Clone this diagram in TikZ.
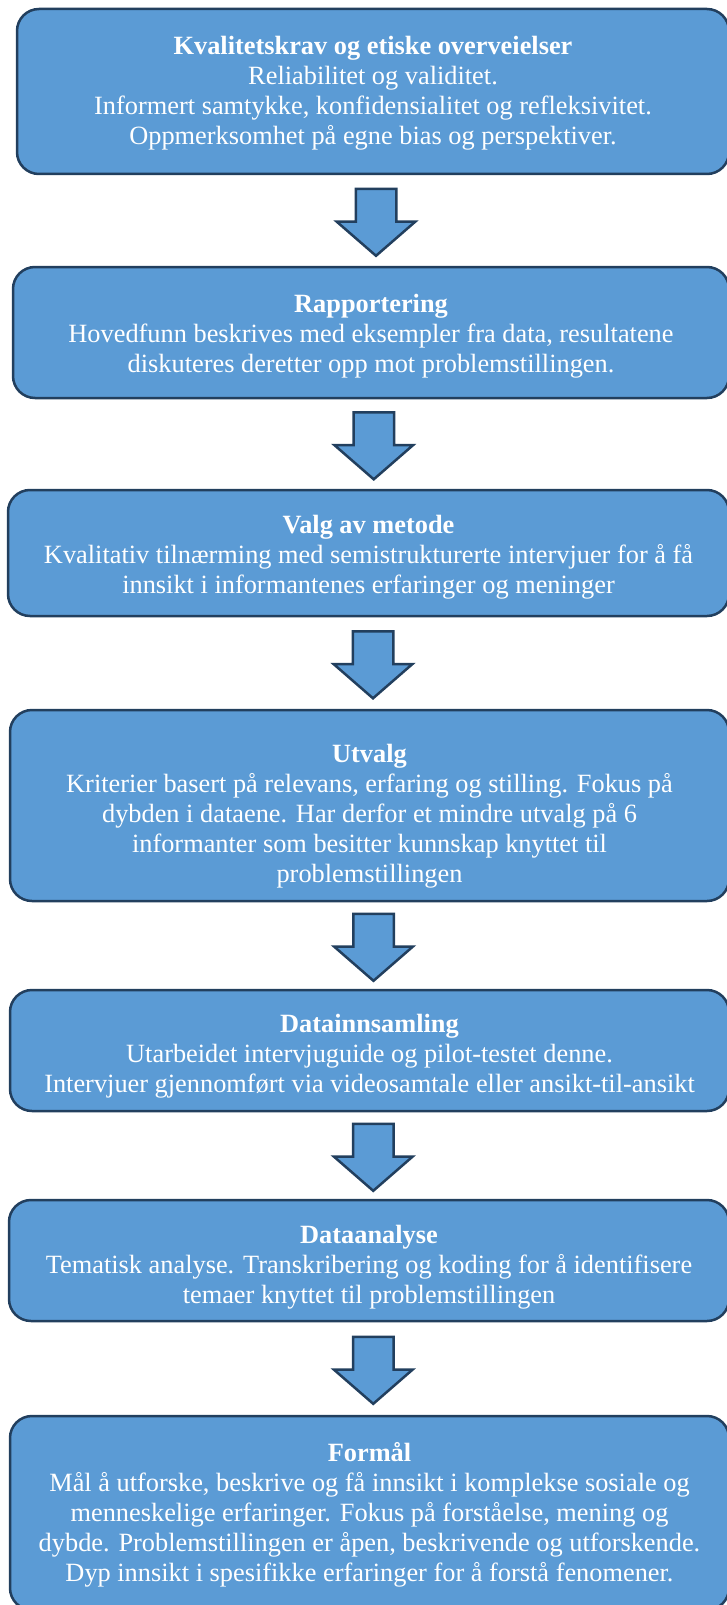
\documentclass[tikz,border=0pt]{standalone}
\usepackage{fontspec}
\setmainfont{Liberation Serif}
\usepackage{tikz}
\usetikzlibrary{shapes,shapes.arrows,calc,positioning}
\definecolor{boxblue}{HTML}{5B9BD5}
\definecolor{boxedge}{HTML}{223F5E}
\tikzset{
    x=1pt,y=-1pt,
    stage/.style ={rectangle, rounded corners=22pt, draw=boxedge, line width=2.5pt, fill=boxblue,
        inner sep=0pt, minimum height=#1},
    stagetext/.style ={text=white, align=center, inner sep=0pt,
        font=\fontsize{26.35}{30}\selectfont},
    downarrow/.style = {single arrow, draw=boxedge, line width=2.5pt, fill=boxblue,
        shape border rotate=270, inner sep=0pt, minimum height=67pt, minimum width=77pt,
        single arrow head extend=19pt, single arrow tip angle=98, xshift=4pt, yshift=7pt}
}
\begin{document}
\begin{tikzpicture}
        \useasboundingbox (0,0) rectangle (727,1605);
        \node[stage=165pt, minimum width=712pt] (krav) at (373,91.5) {};
        \node[stagetext] (kravtext) at ($(krav.center)+(0,2)$)
            {\textbf{Kvalitetskrav og etiske overveielser}\\
             Reliabilitet og validitet.\\
             Informert samtykke, konfidensialitet og refleksivitet.\\
             Oppmerksomhet på egne bias og perspektiver.};
        \node[stage=131pt, minimum width=716pt] (rapport) at (371,332.5) {};
        \node[stagetext] (rapporttext) at ($(rapport.center)+(0,4)$)
            {\textbf{Rapportering}\\
             Hovedfunn beskrives med eksempler fra data, resultatene\\
             diskuteres deretter opp mot problemstillingen.};
        \node[stage=126pt, minimum width=721pt] (metode) at (368.5,553) {};
        \node[stagetext] (metodetext) at ($(metode.center)+(0,4)$)
            {\textbf{Valg av metode}\\
             Kvalitativ tilnærming med semistrukturerte intervjuer for å få\\
             innsikt i informantenes erfaringer og meninger};
        \node[stage=191pt, minimum width=719pt] (utvalg) at (369.5,805.5) {};
        \node[stagetext] (utvalgtext) at ($(utvalg.center)+(0,11)$)
            {\textbf{Utvalg}\\
             Kriterier basert på relevans, erfaring og stilling. Fokus på\\
             dybden i dataene. Har derfor et mindre utvalg på 6\\
             informanter som besitter kunnskap knyttet til\\
             problemstillingen};
        \node[stage=121pt, minimum width=719pt] (innsamling) at (369.5,1050.5) {};
        \node[stagetext] (innsamlingtext) at ($(innsamling.center)+(0,6)$)
            {\textbf{Datainnsamling}\\
             Utarbeidet intervjuguide og pilot-testet denne.\\
             Intervjuer gjennomført via videosamtale eller ansikt-til-ansikt};
        \node[stage=121pt, minimum width=720pt] (analyse) at (369,1260.5) {};
        \node[stagetext] (analysetext) at ($(analyse.center)+(0,7)$)
            {\textbf{Dataanalyse}\\
             Tematisk analyse. Transkribering og koding for å identifisere\\
             temaer knyttet til problemstillingen};
        \node[stage=194pt, minimum width=719pt] (formaal) at (369.5,1513) {};
        \node[stagetext] (formaaltext) at ($(formaal.center)+(0,2)$)
            {\textbf{Formål}\\
             Mål å utforske, beskrive og få innsikt i komplekse sosiale og\\
             menneskelige erfaringer. Fokus på forståelse, mening og\\
             dybde. Problemstillingen er åpen, beskrivende og utforskende.\\
             Dyp innsikt i spesifikke erfaringer for å forstå fenomener.};
        % Block arrows between the stages
        \node[downarrow] (a1) at ($(krav.south)!0.5!(rapport.north)$) {\rule{38pt}{0pt}};
        \node[downarrow] (a2) at ($(rapport.south)!0.5!(metode.north)$) {\rule{38pt}{0pt}};
        \node[downarrow] (a3) at ($(metode.south)!0.5!(utvalg.north)$) {\rule{38pt}{0pt}};
        \node[downarrow] (a4) at ($(utvalg.south)!0.5!(innsamling.north)$) {\rule{38pt}{0pt}};
        \node[downarrow] (a5) at ($(innsamling.south)!0.5!(analyse.north)$) {\rule{38pt}{0pt}};
        \node[downarrow] (a6) at ($(analyse.south)!0.5!(formaal.north)$) {\rule{38pt}{0pt}};
    \end{tikzpicture}
\end{document}
